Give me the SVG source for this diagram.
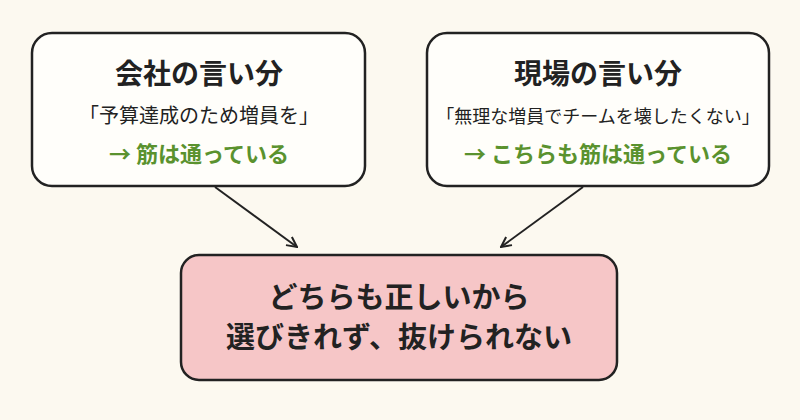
<svg xmlns="http://www.w3.org/2000/svg" width="800" height="420" viewBox="0 0 800 420">
<style>
.box{fill:#fffefa;stroke:#222;stroke-width:2.5}
.t{font-family:"Noto Sans CJK JP","Noto Sans",sans-serif;text-anchor:middle;fill:#222}
.h{font-size:28px;font-weight:700}
.s{font-size:20px}
.g{font-size:22px;font-weight:700;fill:#5a922e}
.b{font-size:29px;font-weight:700}
.c{stroke:#222;stroke-width:2;fill:none;marker-end:url(#a)}
</style>
<defs><marker id="a" viewBox="0 0 12 12" refX="11" refY="6" markerWidth="12" markerHeight="12" markerUnits="userSpaceOnUse" orient="auto"><path d="M1,1 L11,6 L1,11" fill="none" stroke="#222" stroke-width="2"/></marker></defs>
<rect width="800" height="420" fill="#fcf9f0"/>
<g id="connectors">
<path class="c" d="M215,187 L297,247"/>
<path class="c" d="M583,187 L501,247"/>
</g>
<g id="company">
<rect class="box" x="32" y="33" width="333" height="153" rx="20"/>
<text class="t h" x="199" y="84">会社の言い分</text>
<text class="t s" x="199" y="123">「予算達成のため増員を」</text>
<text class="t g" x="199" y="162">→ 筋は通っている</text>
</g>
<g id="field">
<rect class="box" x="427" y="33" width="342" height="153" rx="20"/>
<text class="t h" x="598" y="84">現場の言い分</text>
<text class="t s" x="598" y="123" style="font-size:18px">「無理な増員でチームを壊したくない」</text>
<text class="t g" x="598" y="162">→ こちらも筋は通っている</text>
</g>
<g id="result">
<rect class="box" x="181" y="255" width="436" height="125" rx="18" style="fill:#f6c6c7"/>
<text class="t b" x="399" y="308">どちらも正しいから</text>
<text class="t b" x="399" y="348">選びきれず、抜けられない</text>
</g>
</svg>
